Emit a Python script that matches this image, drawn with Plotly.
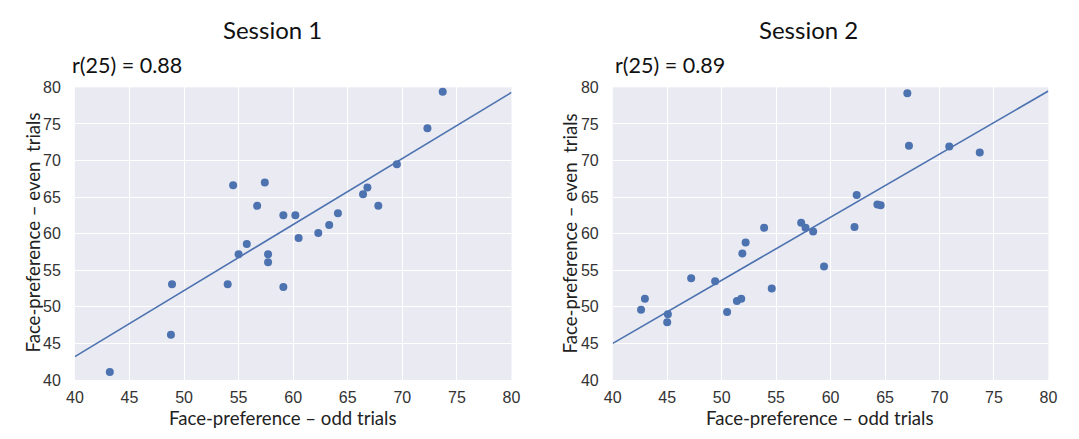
import plotly.graph_objects as go

W, H = 1079, 439

# Session 1 data
s1_odd = [73.7, 72.3, 69.5, 54.5, 57.4, 56.7, 59.1, 60.2, 60.5, 62.3, 63.3, 64.1,
          66.4, 66.8, 67.8, 55.75, 55.0, 57.7, 57.7, 54.0, 59.1, 48.9, 48.8, 43.2]
s1_even = [79.4, 74.4, 69.5, 66.6, 67.0, 63.8, 62.5, 62.5, 59.4, 60.1, 61.2, 62.8,
           65.4, 66.3, 63.8, 58.6, 57.2, 57.2, 56.1, 53.1, 52.7, 53.1, 46.2, 41.1]
s1_fit_x = [40, 80]
s1_fit_y = [43.2, 79.3]

# Session 2 data
s2_odd = [67.05, 67.2, 70.9, 73.7, 62.4, 64.3, 64.6, 62.2, 57.3, 57.7, 58.4, 53.9,
          52.2, 51.9, 59.4, 54.6, 49.4, 47.2, 51.4, 51.8, 50.5, 42.95, 42.6, 45.06, 45.0]
s2_even = [79.2, 72.0, 71.9, 71.1, 65.3, 64.0, 63.9, 60.9, 61.5, 60.8, 60.3, 60.8,
           58.8, 57.3, 55.5, 52.5, 53.5, 53.9, 50.8, 51.1, 49.3, 51.1, 49.6, 49.0, 47.9]
s2_fit_x = [40, 80]
s2_fit_y = [45.0, 79.5]

titles = ["Session 1", "Session 2"]
r_labels = ["r(25) = 0.88", "r(25) = 0.89"]
x_title = "Face-preference \u2013 odd trials"
y_title = "Face-preference \u2013 even\u00a0 trials"
ticks = [40, 45, 50, 55, 60, 65, 70, 75, 80]

blue = "#4C72B0"
bg = "#EAEAF2"
label_font = "Lato, 'Open Sans', sans-serif"
tick_font = "'Liberation Sans', Arial, sans-serif"

def px_x(p):
    return p / W

def px_y(p):
    return 1 - p / H

fig = go.Figure()

panels = [
    (s1_odd, s1_even, s1_fit_x, s1_fit_y, "x", "y"),
    (s2_odd, s2_even, s2_fit_x, s2_fit_y, "x2", "y2"),
]
for xs, ys, fx, fy, xa, ya in panels:
    fig.add_trace(go.Scatter(x=fx, y=fy, mode="lines", line=dict(color=blue, width=1.6),
                             xaxis=xa, yaxis=ya, showlegend=False, hoverinfo="skip"))
    fig.add_trace(go.Scatter(x=xs, y=ys, mode="markers", marker=dict(color=blue, size=8),
                             xaxis=xa, yaxis=ya, showlegend=False, cliponaxis=False))

left_dom = [px_x(67), px_x(511)]
right_dom = [px_x(614), px_x(1057)]
y_dom = [px_y(387), px_y(82.5)]

axis_common = dict(range=[40, 80], tickvals=ticks, showgrid=True, gridcolor="white",
                   gridwidth=1.3, zeroline=False, showline=False, ticks="",
                   tickfont=dict(family=tick_font, size=16, color="#333333"),
                   fixedrange=True)

fig.update_layout(
    width=W, height=H,
    margin=dict(l=0, r=0, t=0, b=0),
    paper_bgcolor="white",
    plot_bgcolor=bg,
    xaxis=dict(domain=left_dom, anchor="y", ticklabelstandoff=6, **axis_common),
    yaxis=dict(domain=y_dom, anchor="x", ticklabelstandoff=13, **axis_common),
    xaxis2=dict(domain=right_dom, anchor="y2", ticklabelstandoff=6, **axis_common),
    yaxis2=dict(domain=y_dom, anchor="x2", ticklabelstandoff=13, **axis_common),
)

annotations = []
panel_info = [
    (268, 62, 279, 24),
    (813, 614, 825, 570),
]
for i, (tx, rx, xlx, ylx) in enumerate(panel_info):
    annotations.append(dict(text=titles[i], x=px_x(tx), y=px_y(22), xref="paper", yref="paper",
                            showarrow=False, xanchor="center", yanchor="middle",
                            font=dict(family=label_font, size=24, color="#111111")))
    annotations.append(dict(text=r_labels[i], x=px_x(rx), y=px_y(59), xref="paper", yref="paper",
                            showarrow=False, xanchor="left", yanchor="middle",
                            font=dict(family=label_font, size=21.5, color="#111111")))
    annotations.append(dict(text=x_title, x=px_x(xlx), y=px_y(427), xref="paper", yref="paper",
                            showarrow=False, xanchor="center", yanchor="middle",
                            font=dict(family=label_font, size=18.6, color="#222222")))
    annotations.append(dict(text=y_title, x=px_x(ylx), y=px_y(234), xref="paper", yref="paper",
                            showarrow=False, xanchor="center", yanchor="middle", textangle=-90,
                            font=dict(family=label_font, size=18.6, color="#222222")))
fig.update_layout(annotations=annotations)

fig.write_html("out.html")
